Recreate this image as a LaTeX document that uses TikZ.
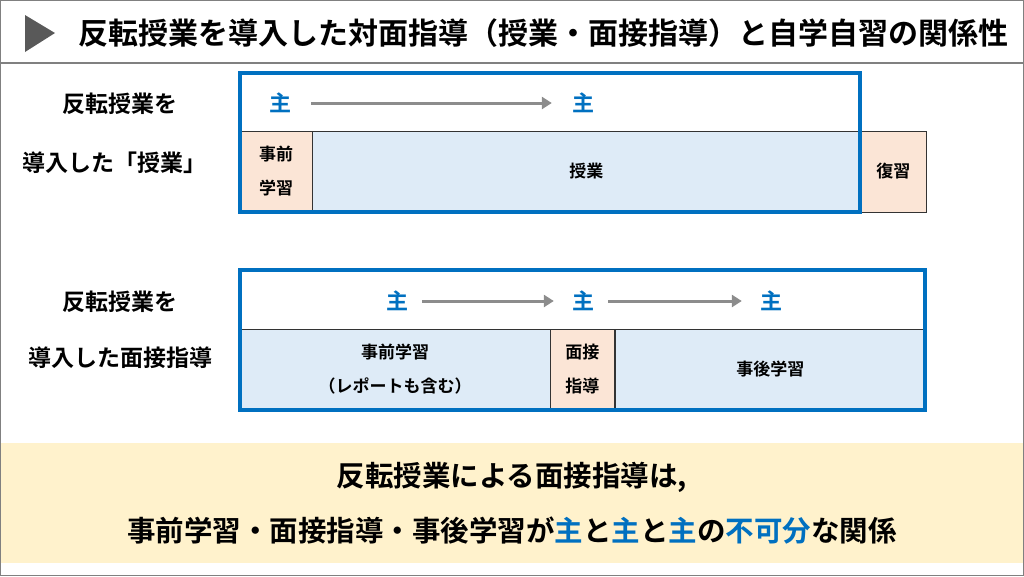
\documentclass[tikz,border=0pt]{standalone}
\usepackage{fontspec}
\setmainfont{Noto Sans CJK JP}[BoldFont={Noto Sans CJK JP Bold}]
\usetikzlibrary{arrows.meta,positioning}
\definecolor{mainblue}{RGB}{0,112,192}
\definecolor{cellblue}{RGB}{222,235,247}
\definecolor{cellpeach}{RGB}{251,229,214}
\definecolor{bandyellow}{RGB}{255,242,204}
\tikzset{
  base/.style={align=center, font=\bfseries, text=black, inner sep=0pt},
  cell/.style={base, draw=black!80, thin, font=\bfseries\fontsize{17}{34}\selectfont},
  blue_cell/.style={cell, fill=cellblue},
  peach_cell/.style={cell, fill=cellpeach},
  frame/.style={draw=mainblue, line width=3.5pt},
  lead/.style={base, text=mainblue, font=\bfseries\fontsize{22}{24}\selectfont},
  row_label/.style={base, font=\bfseries\fontsize{23}{26}\selectfont},
  summary/.style={base, font=\bfseries\fontsize{28.5}{30}\selectfont},
  line/.style={-{Triangle[length=10pt,width=12pt]}, line width=3pt, draw=gray!90}
}
\begin{document}
\begin{tikzpicture}[x=1pt,y=-1pt]
  \useasboundingbox (0,0) rectangle (1024,576);
  % Title
  \fill[gray!70!black] (25,15) -- (55,33) -- (25,52) -- cycle;
  \node[base, font=\bfseries\fontsize{30}{32}\selectfont, anchor=west] (title) at (78,33)
    {反転授業を導入した対面指導（授業・面接指導）と自学自習の関係性};
  \draw[gray, line width=1.5pt] (0,63) -- (1024,63);

  % Upper row
  \node[row_label] (lab1a) at (120,104) {反転授業を};
  \node[row_label] (lab1b) at (114,163) {導入した「授業」};
  \node[peach_cell, minimum width=72, minimum height=81] (pre1) at (276,171.5) {事前\\学習};
  \node[blue_cell, minimum width=548, minimum height=81, right=0 of pre1] (class1) {授業};
  \node[peach_cell, minimum width=65, minimum height=81, right=0 of class1] (rev1) {復習};
  \draw[frame] (240,73) rectangle (860,212);
  \node[lead] (m1) at (280,103) {主};
  \node[lead] (m2) at (583,103) {主};
  \draw[line] ([xshift=20]m1.east) -- ([xshift=-20]m2.west);

  % Lower row
  \node[row_label] (lab2a) at (120,302) {反転授業を};
  \node[row_label] (lab2b) at (120,358) {導入した面接指導};
  \node[blue_cell, minimum width=310, minimum height=81] (pre2) at (395,369.5) {事前学習\\（レポートも含む）};
  \node[peach_cell, minimum width=64, minimum height=81, right=0 of pre2] (meet2) {面接\\指導};
  \node[blue_cell, minimum width=311, minimum height=81, right=0 of meet2] (post2) {事後学習};
  \draw[frame] (240,270) rectangle (925,410);
  \node[lead] (n1) at (397,301) {主};
  \node[lead] (n2) at (583,301) {主};
  \node[lead] (n3) at (771,301) {主};
  \draw[line] ([xshift=14]n1.east) -- ([xshift=-18]n2.west);
  \draw[line] ([xshift=14]n2.east) -- ([xshift=-18]n3.west);

  % Summary band
  \fill[bandyellow] (0,443) rectangle (1024,563);
  \node[summary] (sum1) at (512,477) {反転授業による面接指導は,};
  \node[summary] (sum2) at (512,531)
    {事前学習・面接指導・事後学習が\textcolor{mainblue}{主}と\textcolor{mainblue}{主}と\textcolor{mainblue}{主}の\textcolor{mainblue}{不可分}な関係};
  \draw[gray, thin] (0.5,0.5) rectangle (1023.5,575.5);
\end{tikzpicture}
\end{document}
